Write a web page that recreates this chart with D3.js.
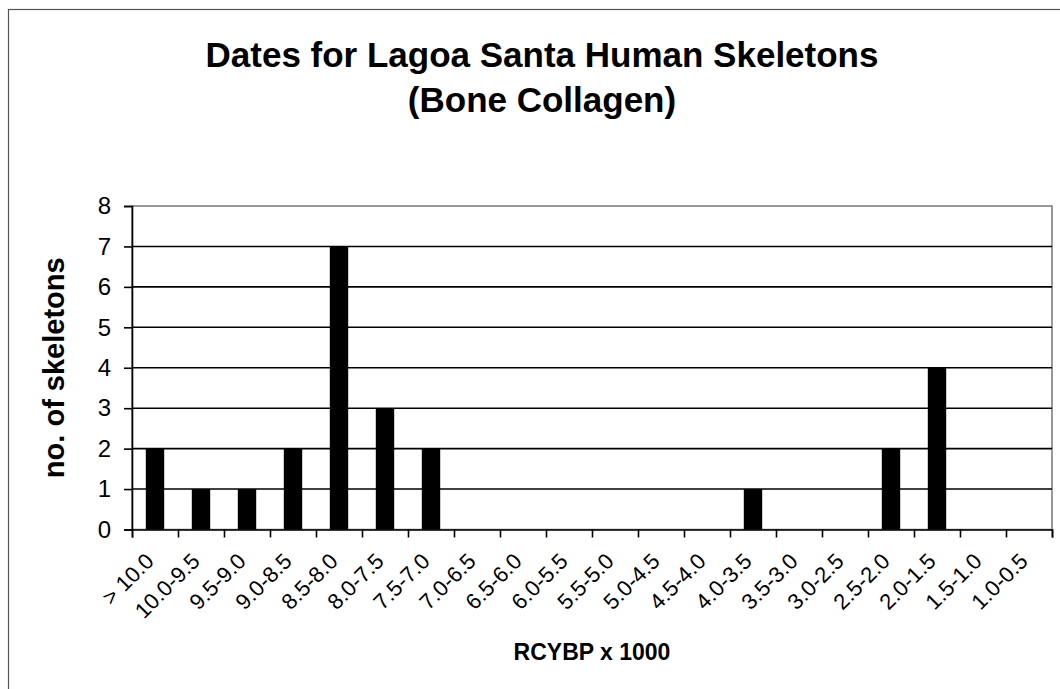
<!DOCTYPE html>
<html>
<head>
<meta charset="utf-8">
<script src="https://cdn.jsdelivr.net/npm/d3@7"></script>
<style>
  body { margin: 0; background: #fff; }
  svg { display: block; font-family: Arial, "Liberation Sans", sans-serif; }
</style>
</head>
<body>
<svg width="1060" height="689"></svg>
<script>
const categories = ["> 10.0", "10.0-9.5", "9.5-9.0", "9.0-8.5", "8.5-8.0", "8.0-7.5", "7.5-7.0",
    "7.0-6.5", "6.5-6.0", "6.0-5.5", "5.5-5.0", "5.0-4.5", "4.5-4.0", "4.0-3.5", "3.5-3.0",
    "3.0-2.5", "2.5-2.0", "2.0-1.5", "1.5-1.0", "1.0-0.5"];
const skeletons = [2, 1, 1, 2, 7, 3, 2, 0, 0, 0, 0, 0, 0, 1, 0, 0, 2, 4, 0, 0];
const yTicks = [0, 1, 2, 3, 4, 5, 6, 7, 8];

const svg = d3.select("svg"),
    margin = {top: 206, right: 8, bottom: 160, left: 132},
    width = 1052 - margin.left,
    height = 529.5 - margin.top;

// outer chart border (only top/left visible in the frame)
svg.append("rect")
    .attr("x", 8.5).attr("y", 9.5)
    .attr("width", 1100).attr("height", 700)
    .attr("fill", "none")
    .attr("stroke", "#555")
    .attr("stroke-width", 1.2);

svg.append("text")
    .attr("x", 542).attr("y", 67)
    .attr("text-anchor", "middle")
    .style("font-weight", "bold").style("font-size", "35px")
    .text("Dates for Lagoa Santa Human Skeletons");

svg.append("text")
    .attr("x", 542).attr("y", 112)
    .attr("text-anchor", "middle")
    .style("font-weight", "bold").style("font-size", "35px")
    .text("(Bone Collagen)");

const g = svg.append("g")
    .attr("transform", `translate(${margin.left},${margin.top})`);

const x = d3.scaleBand()
    .domain(categories)
    .range([0, width])
    .padding(0);

const xEdge = d3.scaleLinear()
    .domain([0, categories.length])
    .range([0, width]);

const y = d3.scaleLinear()
    .domain([0, 8])
    .range([height, 0]);

// plot area border
g.append("rect")
    .attr("width", width).attr("height", height)
    .attr("fill", "none")
    .attr("stroke", "#777")
    .attr("stroke-width", 1.5);

// gridlines
g.selectAll(".grid")
    .data(yTicks.filter(d => d > 0 && d < 8))
    .join("line")
    .attr("class", "grid")
    .attr("x1", 0).attr("x2", width)
    .attr("y1", d => y(d)).attr("y2", d => y(d))
    .attr("stroke", "#000")
    .attr("stroke-width", 1.6);

g.selectAll(".bar")
    .data(skeletons)
    .join("rect")
    .attr("class", "bar")
    .attr("x", (d, i) => x(categories[i]) + x.bandwidth() * 0.3)
    .attr("y", d => y(d))
    .attr("width", x.bandwidth() * 0.4)
    .attr("height", d => height - y(d))
    .attr("fill", "#000");

// y axis
g.append("g")
    .call(d3.axisLeft(y).tickValues(yTicks).tickSize(8).tickPadding(13))
    .call(a => a.select(".domain").attr("stroke-width", 1.6))
    .call(a => a.selectAll(".tick line").attr("stroke-width", 1.6))
    .call(a => a.selectAll("text").style("font-size", "24px").attr("fill", "#000"));

// x axis ticks at band edges
g.append("g")
    .attr("transform", `translate(0,${height})`)
    .call(d3.axisBottom(xEdge).ticks(categories.length).tickSize(8).tickFormat(""))
    .call(a => a.select(".domain").attr("stroke-width", 1.6))
    .call(a => a.selectAll(".tick line").attr("stroke-width", 1.6));

// rotated category labels
g.append("g")
    .selectAll("text")
    .data(categories)
    .join("text")
    .attr("transform", d => `translate(${x(d) + x.bandwidth() / 2 - 11},${height + 22}) rotate(-45)`)
    .attr("text-anchor", "end")
    .attr("dy", "0.71em")
    .style("font-size", "22px")
    .text(d => d);

svg.append("text")
    .attr("x", margin.left + width / 2).attr("y", 660)
    .attr("text-anchor", "middle")
    .style("font-weight", "bold").style("font-size", "23px")
    .text("RCYBP x 1000");

svg.append("text")
    .attr("transform", `translate(64,${margin.top + height / 2}) rotate(-90)`)
    .attr("text-anchor", "middle")
    .style("font-weight", "bold").style("font-size", "29px")
    .text("no. of skeletons");
</script>
</body>
</html>
